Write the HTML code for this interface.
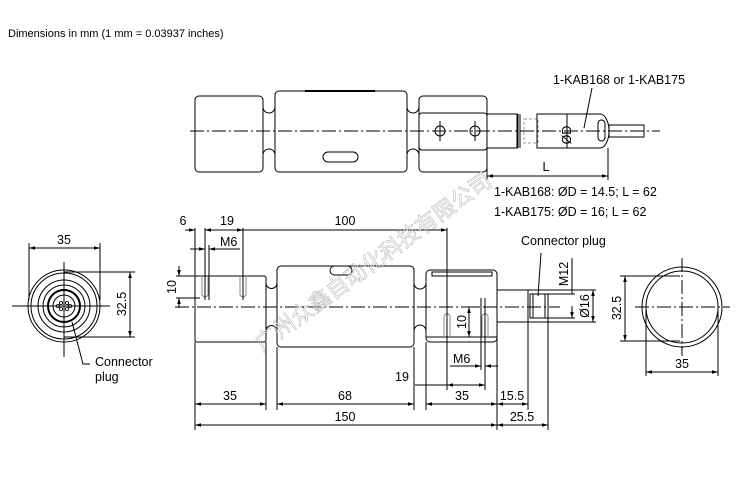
<!DOCTYPE html>
<html><head><meta charset="utf-8"><style>
html,body{margin:0;padding:0;background:#fff}
svg{display:block}
text{font-family:"Liberation Sans",Arial,sans-serif;font-size:12.5px;fill:#000}
</style></head><body>
<svg width="750" height="480" viewBox="0 0 750 480">
<defs>
<marker id="a" viewBox="0 0 10 10" refX="10" refY="5" markerWidth="6" markerHeight="6" orient="auto-start-reverse"><path d="M0,2L10,5L0,8z" fill="#000"/></marker>
</defs>
<text x="8" y="37" style="font-size:11px">Dimensions in mm (1 mm = 0.03937 inches)</text>

<g fill="none" stroke="#000" stroke-width="1">
<!-- TOP VIEW -->
<rect x="195" y="96" width="68" height="76" rx="4"/>
<rect x="275" y="91" width="132" height="81" rx="4"/>
<line x1="305" y1="91" x2="375" y2="91" stroke-width="2"/>
<path d="M263,107 A6,6 0 0 0 275,107 M263,155 A6,6 0 0 1 275,155"/>
<path d="M407,107 A6,6 0 0 0 419,107 M407,155 A6,6 0 0 1 419,155"/>
<rect x="419" y="96" width="68" height="76" rx="4"/>
<rect x="419" y="113" width="68" height="37" rx="3"/>
<circle cx="440" cy="131" r="5"/><circle cx="475" cy="131" r="5"/>
<line x1="440" y1="121" x2="440" y2="141"/><line x1="475" y1="121" x2="475" y2="141"/>
<rect x="323" y="152" width="35" height="10" rx="5"/>
<rect x="487" y="114" width="30" height="34"/>
<line x1="518" y1="114" x2="518" y2="148"/><line x1="520" y1="114" x2="520" y2="148"/>
<rect x="524" y="119" width="14" height="24" stroke="#999" stroke-dasharray="3,2"/>
<path d="M537,114 H600 A9,17 0 0 1 600,148 H537 Z"/>
<rect x="598" y="120" width="7" height="21" rx="3.5"/>
<rect x="609" y="125" width="35" height="12"/>
<line x1="190" y1="131" x2="660" y2="131" stroke-dasharray="14,3,2,3"/>
<line x1="567" y1="114" x2="567" y2="148"/>
<line x1="487" y1="150" x2="487" y2="180"/><line x1="608" y1="148" x2="608" y2="180"/>
<line x1="487" y1="176" x2="608" y2="176" marker-start="url(#a)" marker-end="url(#a)"/>
<line x1="592" y1="88" x2="584" y2="128"/>

<!-- SIDE VIEW -->
<rect x="195" y="276" width="71" height="66" rx="2"/>
<rect x="277" y="266" width="137" height="81" rx="4"/>
<path d="M266,283 A5.5,5.5 0 0 0 277,283 M266,331 A5.5,5.5 0 0 1 277,331"/>
<path d="M414,283 A6,6 0 0 0 426,283 M414,331 A6,6 0 0 1 426,331"/>
<rect x="330" y="266" width="22" height="9" rx="4.5"/>
<rect x="426" y="270" width="71" height="72" rx="4"/>
<line x1="426" y1="337" x2="497" y2="337"/>
<rect x="432" y="272" width="60" height="4"/>
<rect x="497" y="290" width="31" height="32"/>
<rect x="530" y="294" width="18" height="24"/>
<line x1="533" y1="294" x2="533" y2="318"/><line x1="545" y1="294" x2="545" y2="318"/>
<g stroke="#888">
<path d="M202,276 V295 Q205,299 208,295 V276"/><path d="M240,276 V295 Q243,299 246,295 V276"/>
<path d="M444,337 V316 Q447,311 450,316 V337"/><path d="M482,337 V316 Q485,311 488,316 V337"/>
</g>
<line x1="175" y1="307" x2="560" y2="307" stroke-dasharray="14,3,2,3"/>
<!-- top dims -->
<line x1="195" y1="228" x2="195" y2="276"/><line x1="205" y1="228" x2="205" y2="300"/>
<line x1="209" y1="245" x2="209" y2="300"/><line x1="243" y1="228" x2="243" y2="300"/>
<line x1="447" y1="228" x2="447" y2="390"/><line x1="485" y1="298" x2="485" y2="390"/>
<line x1="481" y1="298" x2="481" y2="370"/>
<line x1="185" y1="230" x2="195" y2="230" marker-end="url(#a)"/>
<line x1="205" y1="230" x2="243" y2="230" marker-start="url(#a)" marker-end="url(#a)"/>
<line x1="243" y1="230" x2="447" y2="230" marker-end="url(#a)"/>
<line x1="190" y1="249" x2="205" y2="249" marker-end="url(#a)"/>
<line x1="209" y1="249" x2="240" y2="249" marker-start="url(#a)"/>
<line x1="176" y1="276" x2="195" y2="276"/><line x1="176" y1="298" x2="200" y2="298"/>
<line x1="179" y1="266" x2="179" y2="276" marker-end="url(#a)"/>
<line x1="179" y1="308" x2="179" y2="298" marker-end="url(#a)"/>
<line x1="462" y1="307" x2="478" y2="307"/><line x1="462" y1="337" x2="478" y2="337"/>
<line x1="469" y1="307" x2="469" y2="337" marker-start="url(#a)" marker-end="url(#a)"/>
<line x1="450" y1="366" x2="481" y2="366" marker-end="url(#a)"/>
<line x1="485" y1="366" x2="498" y2="366" marker-start="url(#a)"/>
<line x1="415" y1="385" x2="485" y2="385"/>
<line x1="447" y1="385" x2="485" y2="385" marker-start="url(#a)" marker-end="url(#a)"/>
<!-- bottom dims -->
<line x1="195" y1="342" x2="195" y2="430"/><line x1="266" y1="342" x2="266" y2="410"/>
<line x1="277" y1="347" x2="277" y2="410"/><line x1="414" y1="347" x2="414" y2="410"/>
<line x1="426" y1="342" x2="426" y2="410"/><line x1="497" y1="322" x2="497" y2="430"/>
<line x1="528" y1="322" x2="528" y2="410"/><line x1="548" y1="318" x2="548" y2="430"/>
<line x1="195" y1="404" x2="266" y2="404" marker-start="url(#a)" marker-end="url(#a)"/>
<line x1="277" y1="404" x2="414" y2="404" marker-start="url(#a)" marker-end="url(#a)"/>
<line x1="426" y1="404" x2="497" y2="404" marker-start="url(#a)" marker-end="url(#a)"/>
<line x1="497" y1="404" x2="528" y2="404" marker-start="url(#a)" marker-end="url(#a)"/>
<line x1="195" y1="425" x2="497" y2="425" marker-start="url(#a)" marker-end="url(#a)"/>
<line x1="497" y1="425" x2="548" y2="425" marker-start="url(#a)" marker-end="url(#a)"/>
<!-- M12 / Ø16 -->
<line x1="572" y1="258" x2="572" y2="294"/><line x1="548" y1="294" x2="575" y2="294"/>
<line x1="548" y1="318" x2="575" y2="318"/><line x1="572" y1="318" x2="572" y2="306" marker-start="url(#a)"/>
<line x1="528" y1="290" x2="596" y2="290"/><line x1="528" y1="322" x2="596" y2="322"/>
<line x1="593" y1="290" x2="593" y2="322" marker-start="url(#a)" marker-end="url(#a)"/>
<line x1="541" y1="253" x2="538" y2="296"/>

<!-- LEFT END VIEW -->
<circle cx="64" cy="306" r="36"/><circle cx="64" cy="306" r="33"/>
<circle cx="64" cy="306" r="26"/><circle cx="64" cy="306" r="21"/>
<circle cx="64" cy="306" r="16" stroke-width="2"/><circle cx="64" cy="306" r="11"/>
<g stroke-width="0.8"><circle cx="61" cy="303" r="1.6"/><circle cx="67" cy="303" r="1.6"/><circle cx="61" cy="309" r="1.6"/><circle cx="67" cy="309" r="1.6"/><circle cx="58" cy="306" r="1.6"/><circle cx="70" cy="306" r="1.6"/></g>
<line x1="12" y1="306" x2="110" y2="306"/><line x1="64" y1="262" x2="64" y2="357"/>
<line x1="29" y1="243" x2="29" y2="300"/><line x1="100" y1="243" x2="100" y2="300"/>
<line x1="29" y1="248" x2="100" y2="248" marker-start="url(#a)" marker-end="url(#a)"/>
<line x1="64" y1="272" x2="135" y2="272"/><line x1="64" y1="337" x2="135" y2="337"/>
<line x1="130" y1="272" x2="130" y2="337" marker-start="url(#a)" marker-end="url(#a)"/>
<path d="M72,322 Q78,345 83,364 H90"/>

<!-- RIGHT END VIEW -->
<circle cx="682" cy="307" r="40"/><circle cx="682" cy="307" r="36"/>
<line x1="635" y1="307" x2="730" y2="307" stroke-dasharray="14,3,2,3"/>
<line x1="682" y1="258" x2="682" y2="356" stroke-dasharray="14,3,2,3"/>
<line x1="620" y1="276" x2="680" y2="276"/><line x1="620" y1="341" x2="680" y2="341"/>
<line x1="625" y1="276" x2="625" y2="341" marker-start="url(#a)" marker-end="url(#a)"/>
<line x1="646" y1="310" x2="646" y2="376"/><line x1="718" y1="310" x2="718" y2="376"/>
<line x1="646" y1="372" x2="718" y2="372" marker-start="url(#a)" marker-end="url(#a)"/>
</g>

<!-- texts -->
<text x="553" y="84">1-KAB168 or 1-KAB175</text>
<text x="571" y="135" transform="rotate(-90 571 135)" text-anchor="middle">ØD</text>
<text x="546" y="171" text-anchor="middle">L</text>
<text x="494" y="196">1-KAB168: ØD = 14.5; L = 62</text>
<text x="494" y="216">1-KAB175: ØD = 16; L = 62</text>
<text x="183" y="225" text-anchor="middle">6</text>
<text x="227" y="225" text-anchor="middle">19</text>
<text x="345" y="225" text-anchor="middle">100</text>
<text x="220" y="246">M6</text>
<text x="176" y="287" transform="rotate(-90 176 287)" text-anchor="middle">10</text>
<text x="466" y="322" transform="rotate(-90 466 322)" text-anchor="middle">10</text>
<text x="453" y="363">M6</text>
<text x="395" y="381">19</text>
<text x="230" y="400" text-anchor="middle">35</text>
<text x="345" y="400" text-anchor="middle">68</text>
<text x="462" y="400" text-anchor="middle">35</text>
<text x="512" y="400" text-anchor="middle">15.5</text>
<text x="345" y="421" text-anchor="middle">150</text>
<text x="522" y="421" text-anchor="middle">25.5</text>
<text x="521" y="245">Connector plug</text>
<text x="568" y="274" transform="rotate(-90 568 274)" text-anchor="middle">M12</text>
<text x="589" y="306" transform="rotate(-90 589 306)" text-anchor="middle">Ø16</text>
<text x="64" y="244" text-anchor="middle">35</text>
<text x="126" y="304" transform="rotate(-90 126 304)" text-anchor="middle">32.5</text>
<text x="95" y="366">Connector</text>
<text x="95" y="381">plug</text>
<text x="621" y="308" transform="rotate(-90 621 308)" text-anchor="middle">32.5</text>
<text x="682" y="368" text-anchor="middle">35</text>

<text x="0" y="0" transform="translate(262,352) rotate(-36)" style="font-family:'Liberation Sans','Noto Sans CJK SC',sans-serif;font-size:22px;fill:none;stroke:#bbb;stroke-width:0.6">广州众鑫自动化科技有限公司</text>
</svg>
</body></html>
